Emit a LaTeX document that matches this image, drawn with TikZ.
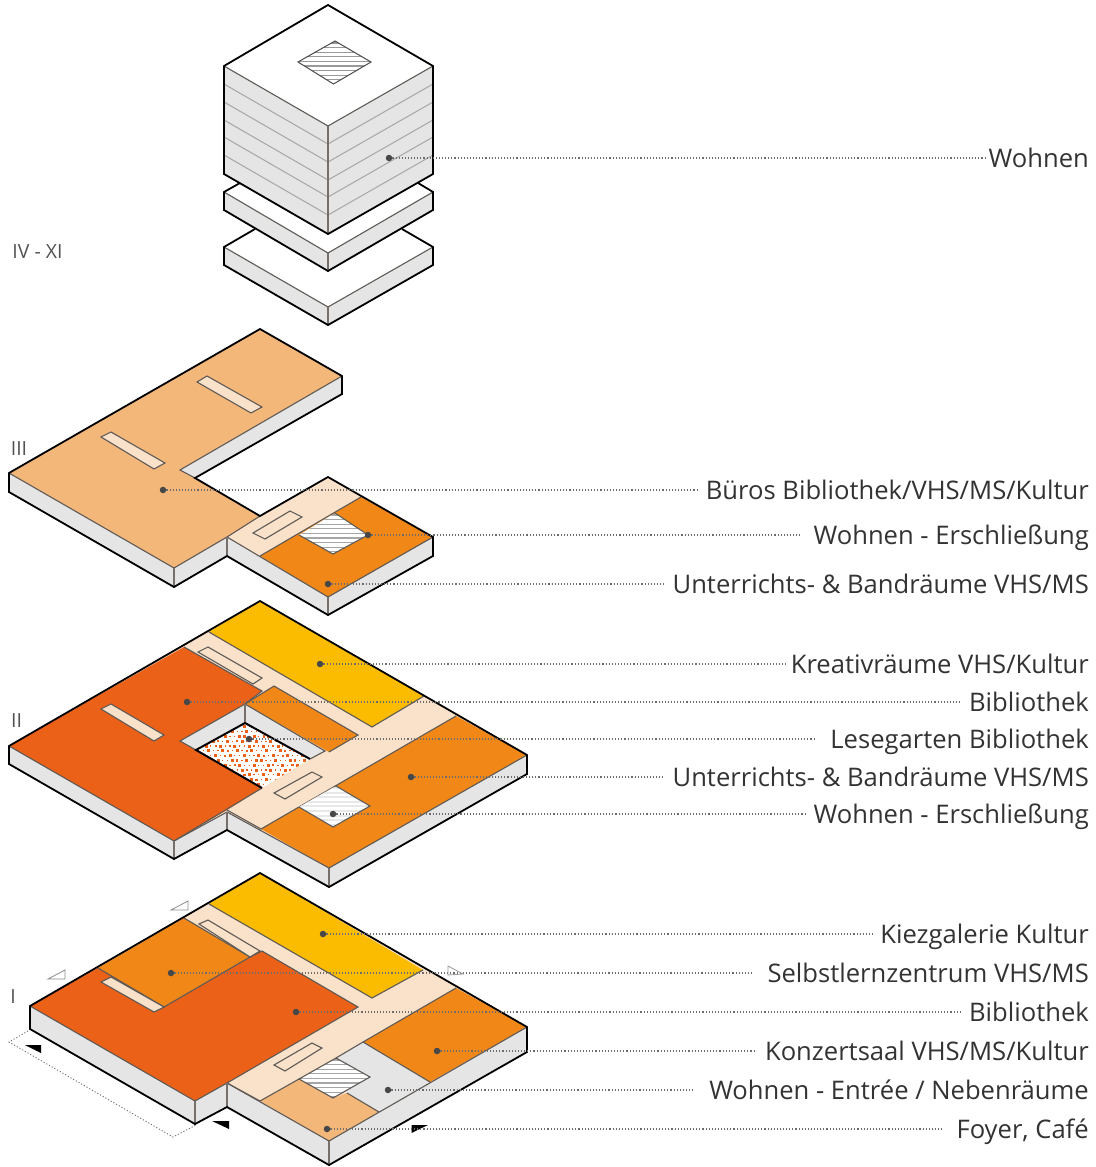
\documentclass[tikz,border=0pt]{standalone}
\usepackage{fontspec}
\setmainfont{Open Sans}
\definecolor{cred}{HTML}{EB6118}
\definecolor{corange}{HTML}{F08717}
\definecolor{cyellow}{HTML}{FBBC00}
\definecolor{ccream}{HTML}{FAE1CA}
\definecolor{clight}{HTML}{F4B77A}
\definecolor{cgrey}{HTML}{E5E5E5}
\definecolor{cedge}{HTML}{5E5A56}
\definecolor{cvert}{HTML}{77706A}
\definecolor{ctext}{HTML}{333333}
\tikzset{
  outer/.style={draw=black,line width=1.8pt,line join=miter},
  inner/.style={draw=cedge,line width=1.1pt,line join=miter},
  vert/.style={draw=cvert,line width=1.6pt},
  sidefill/.style={fill=cgrey},
  slotbox/.style={draw=cedge,line width=1.1pt,fill=ccream},
  hatchline/.style={draw=#1,line width=1.1pt},
  softhatch/.style={draw=#1,line width=2pt},
  leader/.style={draw=ctext!72,line width=1.1pt,dash pattern=on 1.1pt off 2pt},
  dotmark/.style={circle,fill=ctext!90,inner sep=0pt,minimum size=6.5pt},
  lab/.style={anchor=base east,inner sep=0pt,text=ctext,font=\fontsize{25.6}{28}\selectfont},
  lvl/.style={inner sep=0pt,text=ctext!85,font=\fontsize{19.5}{21}\selectfont},
  ghost/.style={draw=black!45,line width=.8pt,fill=white},
  solidtri/.style={fill=black},
}
% name, dot x, y, end x of the leader, label text
\newcommand{\callout}[5]{%
  \node[dotmark] (d#1) at (#2,#3) {};
  \node[lab] (l#1) at (1089,#3+9) {#5};
  \coordinate (e#1) at (#4,#3);
  \draw[leader] (d#1) -- (e#1);
}
% path, first y, last y, second y, colour, outline style
\newcommand{\hatchdiamond}[6]{%
  \begin{scope}
    \clip #1;
    \fill[white] (250,#2) rectangle (400,#3);
    \foreach \yy in {#2,#4,...,#3} {\draw[#5] (250,\yy) -- (400,\yy);}
  \end{scope}
  \draw[#6] #1 -- cycle;
}
\begin{document}
\begin{tikzpicture}[x=1pt,y=-1pt]
\useasboundingbox (0,0) rectangle (1095,1167);
\fill[white] (0,0) rectangle (1095,1167);

%% ---------- Tower
% slab 3
\fill[white] (224,247) -- (328,187) -- (433,247) -- (328,307) -- cycle;
\fill[sidefill] (224,247) -- (328,307) -- (433,247) -- (433,265) -- (328,325) -- (224,265) -- cycle;
\draw[inner] (224,247) -- (328,307) -- (433,247);
\draw[vert] (328,307) -- (328,325);
\draw[outer] (255,229) -- (224,247) -- (224,265) -- (328,325) -- (433,265) -- (433,247) -- (402,229);
% slab 2
\fill[white] (224,192) -- (328,132) -- (433,192) -- (328,253) -- cycle;
\fill[sidefill] (224,192) -- (328,253) -- (433,192) -- (433,210) -- (328,271) -- (224,210) -- cycle;
\draw[inner] (224,192) -- (328,253) -- (433,192);
\draw[vert] (328,253) -- (328,271);
\draw[outer] (240,183) -- (224,192) -- (224,210) -- (328,271) -- (433,210) -- (433,192) -- (418,183);
% cube
\fill[sidefill] (224,66) -- (328,126) -- (433,66) -- (433,174) -- (328,234) -- (224,174) -- cycle;
\foreach \d in {18,36,54,71,89} {
  \draw[draw=black!35,line width=1pt] (224,66+\d) -- (328,126+\d) -- (433,66+\d);
}
\fill[white] (328,5) -- (433,66) -- (328,126) -- (224,66) -- cycle;
\draw[inner] (224,66) -- (328,126) -- (433,66);
\draw[vert] (328,126) -- (328,234);
\draw[outer] (224,66) -- (328,5) -- (433,66) -- (433,174) -- (328,234) -- (224,174) -- cycle;
\hatchdiamond{(335,41) -- (371,62) -- (333.5,84) -- (298,62)}{43}{84}{47.6}{hatchline=black!40}{draw=black!70,line width=1pt}

%% ---------- Floor III
\fill[sidefill] (342,376) -- (342,394) -- (195,478) -- (180,470) -- cycle;
\fill[sidefill] (9,473) -- (9,492) -- (174,587) -- (227,556) -- (328,615) -- (433,556) -- (433,537) -- (328,597) -- (227,537) -- (174,568) -- cycle;
\fill[clight] (9,473) -- (260,329) -- (342,376) -- (180,470) -- (195,478) -- (260,516) -- (227,537) -- (174,568) -- cycle;
\fill[ccream] (260,516) -- (328,477) -- (361,497) -- (260,556) -- (227,537) -- cycle;
\fill[corange] (361,497) -- (433,537) -- (328,597) -- (260,556) -- cycle;
\draw[inner] (9,473) -- (174,568) -- (227,537) -- (328,597) -- (433,537);
\draw[inner] (342,376) -- (180,470) -- (195,478);
\draw[inner] (260,516) -- (227,537);
\draw[inner] (361,497) -- (260,556);
\hatchdiamond{(335,513) -- (368,535) -- (333,554) -- (299,535)}{515}{554}{519.6}{hatchline=black!35}{draw=none}
\draw[inner] (299,535) -- (333,554) -- (368,535) -- (335,513);
\draw[slotbox] (197,382) -- (207,376) -- (262,407) -- (251,413) -- cycle;
\draw[slotbox] (101,437) -- (111,432) -- (165,463) -- (154,469) -- cycle;
\draw[slotbox] (253,533) -- (290,511) -- (302,517) -- (265,539) -- cycle;
\draw[vert] (174,568) -- (174,587);
\draw[vert] (227,537) -- (227,556);
\draw[vert] (328,597) -- (328,615);
\draw[outer] (9,473) -- (260,329) -- (342,376) -- (342,394) -- (195,478) -- (260,516) -- (328,477) -- (433,537) -- (433,556) -- (328,615) -- (227,556) -- (174,587) -- (9,492) -- cycle;

%% ---------- Floor II
\fill[sidefill] (9,746) -- (9,764) -- (174,859) -- (227,830) -- (329,887) -- (527,774) -- (527,755) -- (329,868) -- (227,812) -- (174,841) -- cycle;
\fill[ccream] (9,746) -- (260,601) -- (527,755) -- (329,868) -- (227,812) -- (174,841) -- cycle;
\fill[cyellow] (260,601) -- (424,696) -- (372,727) -- (209,632) -- cycle;
\fill[cred] (184,647) -- (262,691) -- (245,704) -- (180,741) -- (196,750) -- (262,788) -- (227,810) -- (174,841) -- (9,746) -- cycle;
\fill[corange] (274,686) -- (358,735) -- (329,752) -- (245,704) -- cycle;
\fill[corange] (456,716) -- (527,755) -- (329,868) -- (261,829) -- cycle;
\draw[inner] (209,632) -- (372,727) -- (424,696);
\draw[inner] (184,647) -- (262,691) -- (245,704);
\draw[inner] (245,704) -- (274,686) -- (358,735) -- (329,752);
\draw[inner] (456,716) -- (261,829) -- (227,810);
\draw[inner] (262,788) -- (174,841);
\draw[inner] (9,746) -- (174,841) -- (227,812) -- (329,868) -- (527,755);
% courtyard
\fill[cgrey] (245,704) -- (180,741) -- (196,750) -- (245,723) -- cycle;
\fill[cgrey] (245,704) -- (325,751) -- (310,759) -- (245,723) -- cycle;
\draw[inner] (196,750) -- (180,741) -- (245,704) -- (325,751) -- (310,759);
\draw[vert] (245,704) -- (245,723);
\fill[white] (245,723) -- (310,759) -- (262,788) -- (196,750) -- cycle;
\begin{scope}
  \clip (245,723) -- (310,759) -- (262,788) -- (196,750) -- cycle;
  \foreach \j in {0,...,14} {
    \foreach \i in {0,...,25} {
      \pgfmathsetmacro{\px}{194+\i*4.8+mod(\j,2)*2.4}
      \pgfmathsetmacro{\py}{722+\j*4.8}
      \pgfmathsetmacro{\sz}{mod(\i+2*\j,3)==0 ? 1.5 : (mod(\i+\j,4)==1 ? 1.1 : 0.6)}
      \fill[cred] (\px-\sz,\py-\sz) rectangle (\px+\sz,\py+\sz);
    }
  }
\end{scope}
\draw[outer,line width=2pt] (310,759) -- (245,723) -- (196,750) -- (262,788);
\hatchdiamond{(336,786) -- (370,806) -- (333,827) -- (299,807)}{788}{827}{792.6}{softhatch=black!9}{draw=none}
\draw[inner] (336,786) -- (370,806) -- (333,827) -- (299,807);
\draw[slotbox] (198,652) -- (208,647) -- (262,678) -- (253,684) -- cycle;
\draw[slotbox] (101,709) -- (111,704) -- (164,735) -- (154,741) -- cycle;
\draw[slotbox] (274,793) -- (312,772) -- (322,777) -- (285,799) -- cycle;
\draw[vert] (174,841) -- (174,859);
\draw[vert] (227,812) -- (227,830);
\draw[vert] (329,868) -- (329,887);
\draw[outer] (9,746) -- (260,601) -- (527,755) -- (527,774) -- (329,887) -- (227,830) -- (174,859) -- (9,764) -- cycle;

%% ---------- Floor I
\fill[sidefill] (30,1006) -- (30,1029) -- (195,1124) -- (227,1107) -- (329,1165) -- (527,1052) -- (527,1027) -- (329,1141) -- (227,1083) -- (195,1101) -- cycle;
\fill[ccream] (30,1006) -- (260,873) -- (527,1027) -- (329,1141) -- (227,1083) -- (195,1101) -- cycle;
\fill[cyellow] (260,873) -- (423,970) -- (372,998) -- (209,904) -- cycle;
\fill[cred] (30,1006) -- (98,968) -- (164,1007) -- (250,957) -- (262,951) -- (358,1007) -- (227,1083) -- (195,1101) -- cycle;
\fill[corange] (184,918) -- (250,957) -- (164,1007) -- (98,968) -- cycle;
\fill[corange] (456,988) -- (527,1027) -- (430,1082) -- (363,1042) -- cycle;
\fill[cgrey] (363,1042) -- (430,1082) -- (379,1112) -- (347,1093) -- (336,1058) -- cycle;
\fill[clight] (299,1079) -- (333,1098) -- (347,1093) -- (379,1112) -- (329,1141) -- (260,1101) -- cycle;
\draw[inner] (209,904) -- (372,998) -- (423,970);
\draw[inner] (184,918) -- (250,957) -- (164,1007) -- (98,968);
\draw[inner] (250,957) -- (262,951) -- (358,1007) -- (227,1083);
\draw[inner] (456,988) -- (363,1042) -- (336,1058);
\draw[inner] (363,1042) -- (430,1082);
\draw[inner] (299,1079) -- (260,1101) -- (227,1083);
\draw[inner] (347,1093) -- (379,1112);
\draw[inner] (30,1006) -- (195,1101) -- (227,1083) -- (329,1141) -- (527,1027);
\hatchdiamond{(336,1058) -- (370,1077) -- (333,1098) -- (299,1079)}{1060}{1098}{1064.6}{hatchline=black!35}{draw=none}
\draw[inner] (336,1058) -- (370,1077) -- (333,1098) -- (299,1079) -- cycle;
\draw[slotbox] (199,924) -- (208,920) -- (260,951) -- (250,957) -- cycle;
\draw[slotbox] (101,982) -- (111,977) -- (164,1007) -- (154,1012) -- cycle;
\draw[slotbox] (274,1065) -- (312,1043) -- (322,1048) -- (285,1071) -- cycle;
\draw[vert] (195,1101) -- (195,1124);
\draw[vert] (227,1083) -- (227,1107);
\draw[vert] (329,1141) -- (329,1165);
\draw[outer] (30,1006) -- (260,873) -- (527,1027) -- (527,1052) -- (329,1165) -- (227,1107) -- (195,1124) -- (30,1029) -- cycle;

% section markers
\draw[ghost] (171,910) -- (188,901) -- (188,910) -- cycle;
\draw[ghost] (48,979) -- (65,970) -- (65,979) -- cycle;
\draw[leader,line width=.9pt] (28,1031) -- (9,1042) -- (173,1137) -- (196,1125);
\fill[solidtri] (25,1045) -- (41,1045) -- (41,1053) -- cycle;
\fill[solidtri] (212,1121) -- (229,1121) -- (229,1129) -- cycle;
\fill[solidtri] (411.5,1125) -- (428,1125) -- (411.5,1133) -- cycle;

%% ---------- Level labels
\node[lvl] (lvIV) at (37.5,252) {IV - XI};
\node[lvl] (lvIII) at (19,449) {III};
\node[lvl] (lvII) at (16.5,721) {II};
\node[lvl] (lvI) at (13,997) {I};

%% ---------- Callouts
\callout{a}{389}{158}{985}{Wohnen}
\callout{b}{163}{490}{697}{Büros Bibliothek/VHS/MS/Kultur}
\callout{c}{368}{535}{800}{Wohnen - Erschließung}
\callout{d}{328}{584}{665}{Unterrichts- \& Bandräume VHS/MS}
\callout{e}{320}{664}{787}{Kreativräume VHS/Kultur}
\callout{f}{187}{702}{960}{Bibliothek}
\callout{g}{249}{739}{815}{Lesegarten Bibliothek}
\callout{h}{411}{777}{663}{Unterrichts- \& Bandräume VHS/MS}
\callout{i}{333}{814}{806}{Wohnen - Erschließung}
\callout{j}{323}{934}{875}{Kiezgalerie Kultur}
\callout{k}{171}{973}{752}{Selbstlernzentrum VHS/MS}
\callout{m}{296}{1012}{960}{Bibliothek}
\callout{n}{437}{1051}{755}{Konzertsaal VHS/MS/Kultur}
\callout{o}{388}{1090}{695}{Wohnen - Entrée / Nebenräume}
\callout{p}{327}{1129}{943}{Foyer, Café}
\draw[draw=black!40,line width=.8pt] (448,966) -- (463,974) -- (448,975) -- cycle;
\end{tikzpicture}
\end{document}
